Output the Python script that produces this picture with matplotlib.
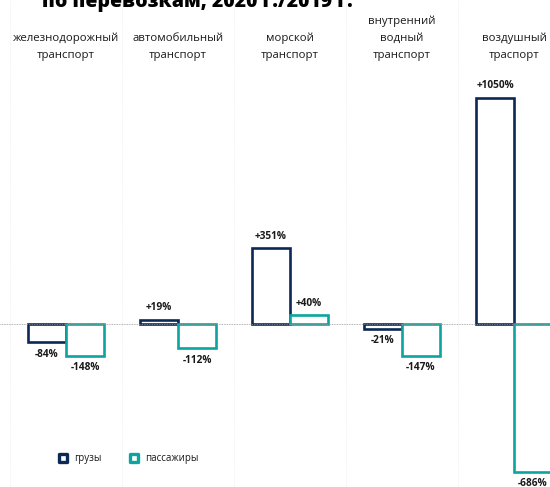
import numpy as np
import matplotlib.pyplot as plt

plt.rcParams['font.family'] = ['Open Sans', 'DejaVu Sans']

# Данные
categories = ['железнодорожный\nтранспорт', 'автомобильный\nтранспорт', 'морской\nтранспорт',
              'внутренний\nводный\nтранспорт', 'воздушный\nтраспорт']
cargo = [-84, 19, 351, -21, 1050]
passengers = [-148, -112, 40, -147, -686]
series_names = ['грузы', 'пассажиры']
title = 'по перевозкам, 2020 г./2019 г.'

navy = '#0b2856'
teal = '#0aa59e'

W, H = 550, 487
fig = plt.figure(figsize=(W / 100, H / 100), dpi=100)
ax = fig.add_axes([0, 0, 1, 1])

# масштаб: пиксели -> данные
x0_px, step_px = 66, 112
y0_px, k = 324, 226 / 1050
ax.set_xlim((0 - x0_px) / step_px, (W - x0_px) / step_px)
ax.set_ylim(-(H - y0_px) / k, y0_px / k)

x = np.arange(len(categories))
bw = 38 / step_px
ax.bar(x - bw / 2, cargo, bw, facecolor='white', edgecolor=navy, linewidth=1.9, zorder=3)
ax.bar(x + bw / 2, passengers, bw, facecolor='white', edgecolor=teal, linewidth=1.9, zorder=3)

# нулевая линия и вертикальные разделители
ax.axhline(0, color='#999999', lw=0.6, ls=(0, (1, 1)), zorder=4)
for b in np.arange(-0.5, len(categories), 1):
    ax.axvline(b, color='#eeeeee', lw=0.6, ls=(0, (1, 1)), zorder=1)

def lab(v):
    return f'+{v}%' if v > 0 else f'{v}%'

off = 12 / k
for xi, v in zip(x, cargo):
    ax.text(xi - bw / 2, v + off if v > 0 else v - off, lab(v), ha='center',
            va='center', fontsize=7.3, fontweight='bold', color='#1a1a1a', zorder=5)
for xi, v in zip(x, passengers):
    ax.text(xi + bw / 2, v + off if v > 0 else v - off, lab(v), ha='center',
            va='center', fontsize=7.3, fontweight='bold', color='#1a1a1a', zorder=5)

# подписи категорий
for xi, c in zip(x, categories):
    ax.text(xi, (y0_px - 61) / k, c, ha='center', va='bottom', fontsize=8.2,
            linespacing=1.75, color='#1a1a1a')

# заголовок (обрезан сверху)
fig.text(42 / W, 1 - 7 / H, title, ha='left', va='baseline', fontsize=14,
         fontweight='heavy', color='black')

# легенда
for (lx, col), name in zip([(63, navy), (134, teal)], series_names):
    ax.scatter([(lx - x0_px) / step_px], [-(458 - y0_px) / k], marker='s', s=34,
               facecolor='white', edgecolor=col, linewidth=2.4, zorder=5)
    ax.text((lx + 11 - x0_px) / step_px, -(458 - y0_px) / k, name, ha='left',
            va='center', fontsize=7, color='#1a1a1a')

ax.axis('off')
fig.savefig('out.png', dpi=100)
